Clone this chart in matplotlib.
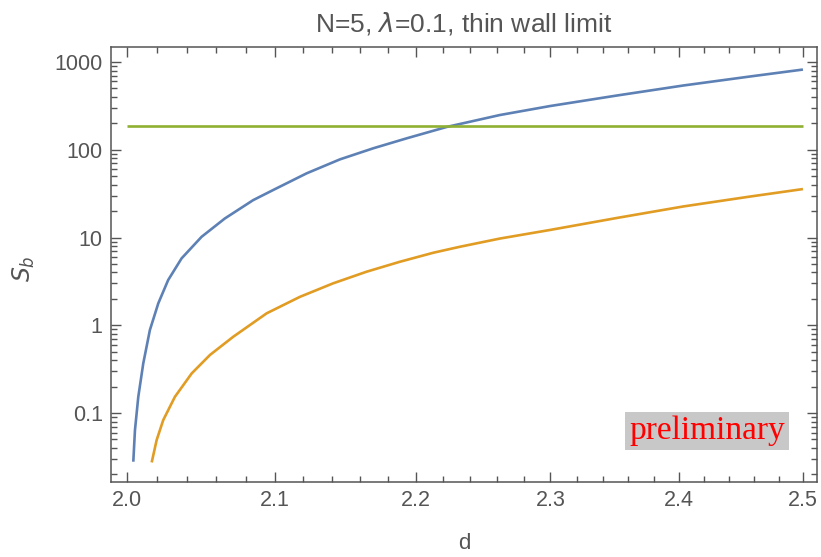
import matplotlib
matplotlib.use('Agg')
import matplotlib.pyplot as plt
from matplotlib import ticker

# values (log-log plot)
d_blue = [2.0042, 2.0053, 2.0075, 2.0108, 2.0152, 2.0208, 2.0274, 2.0364, 2.0499,
          2.0657, 2.0851, 2.0989, 2.1222, 2.1457, 2.1694, 2.1934, 2.2226, 2.2620,
          2.2997, 2.3509, 2.4031, 2.4566, 2.5]
s_blue = [0.0279, 0.064, 0.153, 0.368, 0.883, 1.78, 3.28, 5.79, 10.2,
          16.5, 26.7, 34.8, 53.9, 77.8, 104, 135, 182, 249,
          315, 415, 540, 684, 821]

d_orange = [2.0164, 2.0197, 2.0241, 2.0319, 2.0432, 2.0556, 2.0714, 2.0944, 2.1175,
            2.1409, 2.1646, 2.1886, 2.2128, 2.2323, 2.2620, 2.2997, 2.3509, 2.4031,
            2.4566, 2.5]
s_orange = [0.0274, 0.0492, 0.0832, 0.153, 0.283, 0.46, 0.740, 1.37, 2.11,
            3.01, 4.08, 5.30, 6.71, 7.85, 9.74, 12.2, 16.7, 22.6,
            29.3, 35.7]

d_green = [2.0, 2.5]
s_green = [188, 188]

x_major = [2.0, 2.1, 2.2, 2.3, 2.4, 2.5]
x_minor = [2.02, 2.04, 2.06, 2.08, 2.12, 2.14, 2.16, 2.18, 2.22, 2.24, 2.26, 2.28,
           2.32, 2.34, 2.36, 2.38, 2.42, 2.44, 2.46, 2.48]
y_major = [0.1, 1, 10, 100, 1000]
y_labels = ['0.1', '1', '10', '100', '1000']

gray = '#555555'
plt.rcParams['font.family'] = ['Liberation Sans', 'DejaVu Sans']

fig = plt.figure(figsize=(8.21, 5.57), dpi=100)
ax = fig.add_axes([0.1352, 0.1347, 0.8599, 0.7809])

ax.plot(d_blue, s_blue, color='#5E81B5', lw=1.9, solid_capstyle='butt')
ax.plot(d_orange, s_orange, color='#E19C24', lw=1.9, solid_capstyle='butt')
ax.plot(d_green, s_green, color='#8FB032', lw=1.9, solid_capstyle='butt')

ax.set_xscale('log')
ax.set_yscale('log')
ax.set_xlim(1.9895, 2.5116)
ax.set_ylim(0.0164, 1483)

ax.xaxis.set_major_locator(ticker.FixedLocator(x_major))
ax.xaxis.set_major_formatter(ticker.FixedFormatter(['%.1f' % v for v in x_major]))
ax.xaxis.set_minor_locator(ticker.FixedLocator(x_minor))
ax.xaxis.set_minor_formatter(ticker.NullFormatter())
ax.yaxis.set_major_locator(ticker.FixedLocator(y_major))
ax.yaxis.set_major_formatter(ticker.FixedFormatter(y_labels))
ax.yaxis.set_minor_locator(ticker.LogLocator(base=10, subs=range(2, 10), numticks=20))
ax.yaxis.set_minor_formatter(ticker.NullFormatter())

ax.tick_params(which='both', direction='in', top=True, right=True, color=gray,
               labelcolor=gray, labelsize=15.5, width=1)
ax.tick_params(which='major', length=7, pad=6)
ax.tick_params(which='minor', length=4.5)
for sp in ax.spines.values():
    sp.set_color(gray)
    sp.set_linewidth(1.1)

ax.set_title('N=5, $\\lambda$=0.1, thin wall limit', color=gray, fontsize=19, pad=11)
ax.set_xlabel('d', color=gray, fontsize=16)
ax.xaxis.set_label_coords(0.5, -0.118)
ax.set_ylabel('$S_b$', color=gray, fontsize=17)
ax.yaxis.set_label_coords(-0.105, 0.49)

fig.text(0.9560, 0.2262, 'preliminary', color='red', fontsize=24,
         family='Liberation Serif', ha='right', va='center',
         bbox=dict(facecolor='#c8c8c8', edgecolor='none', pad=3))

fig.savefig('out.png', dpi=100)
